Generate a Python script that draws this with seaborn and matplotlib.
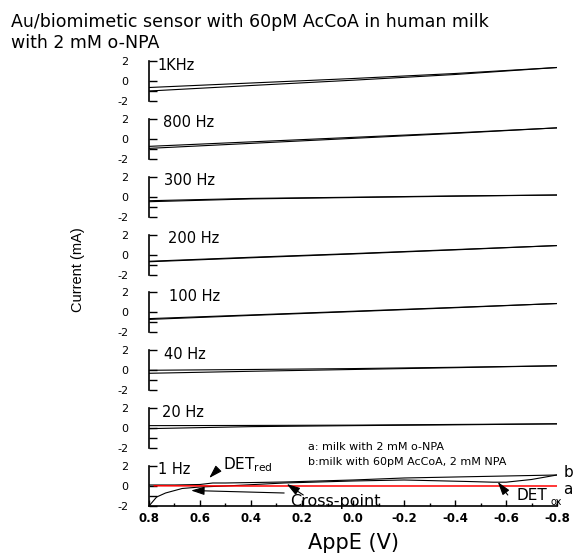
import seaborn as sns
import matplotlib.pyplot as plt
from matplotlib.ticker import MultipleLocator, FixedLocator

freqs = ["1KHz", "800 Hz", "300 Hz", "200 Hz", "100 Hz", "40 Hz", "20 Hz", "1 Hz"]
label_x = [0.765, 0.745, 0.74, 0.725, 0.72, 0.74, 0.75, 0.765]

appe = [0.8, 0.4, 0.0, -0.4, -0.8]

# current (mA), two scan directions per frequency
i_1khz_a = [-0.65, -0.2, 0.25, 0.75, 1.35]
i_1khz_b = [-1.0, -0.45, 0.08, 0.65, 1.35]
i_800_a = [-0.75, -0.3, 0.15, 0.6, 1.1]
i_800_b = [-0.95, -0.45, 0.05, 0.55, 1.1]
i_300_a = [-0.4, -0.17, -0.05, 0.08, 0.17]
i_300_b = [-0.5, -0.22, -0.08, 0.05, 0.17]
i_200_a = [-0.67, -0.27, 0.1, 0.5, 0.9]
i_200_b = [-0.72, -0.32, 0.06, 0.47, 0.9]
i_100_a = [-0.62, -0.25, 0.12, 0.5, 0.89]
i_100_b = [-0.7, -0.3, 0.08, 0.47, 0.89]
i_40_a = [0.0, 0.08, 0.17, 0.3, 0.45]
i_40_b = [-0.3, -0.1, 0.08, 0.26, 0.45]
i_20_a = [0.25, 0.27, 0.3, 0.37, 0.43]
i_20_b = [-0.05, 0.15, 0.25, 0.33, 0.43]

# 1 Hz: curve b (black loop) and curve a (red)
appe_1hz_fwd = [0.8, 0.7, 0.6, 0.55, 0.5, 0.27, 0.0, -0.2, -0.4, -0.6, -0.8]
i_1hz_fwd = [0.1, 0.1, 0.15, 0.3, 0.3, 0.4, 0.6, 0.8, 0.9, 1.0, 1.1]
appe_1hz_rev = [-0.8, -0.7, -0.6, -0.55, -0.45, -0.2, 0.0, 0.27, 0.5, 0.6, 0.67, 0.735, 0.77, 0.8]
i_1hz_rev = [1.1, 0.65, 0.38, 0.38, 0.45, 0.6, 0.5, 0.3, 0.0, -0.1, -0.25, -0.7, -1.1, -2.0]
appe_1hz_a = [0.78, 0.4, 0.0, -0.4, -0.8]
i_1hz_a = [0.02, 0.0, 0.0, 0.0, 0.0]

traces = [
    (i_1khz_a, i_1khz_b), (i_800_a, i_800_b), (i_300_a, i_300_b),
    (i_200_a, i_200_b), (i_100_a, i_100_b), (i_40_a, i_40_b), (i_20_a, i_20_b),
]

sns.set_style("ticks")
plt.rcParams.update({"text.color": "black", "axes.labelcolor": "black",
                     "xtick.color": "black", "ytick.color": "black",
                     "axes.edgecolor": "black"})

fig, axes = plt.subplots(8, 1, sharex=True, figsize=(5.76, 5.53), dpi=100)
fig.subplots_adjust(left=149 / 576, right=557 / 576, top=1 - 61 / 553,
                    bottom=1 - 506 / 553, hspace=0.446)

for n, ax in enumerate(axes):
    if n < 7:
        for ys in traces[n]:
            sns.lineplot(x=appe, y=ys, ax=ax, color="black", lw=0.8,
                         sort=False, estimator=None)
    ax.set_xlim(0.8, -0.8)
    ax.set_ylim(-2, 2)
    ax.set_yticks([-2, 0, 2])
    ax.set_yticklabels(["-2", "0", "2"])
    ax.yaxis.set_minor_locator(FixedLocator([-1]))
    ax.tick_params(axis="y", which="both", direction="in", length=6, width=1,
                   labelsize=8, pad=15)
    for s in ["top", "right"]:
        ax.spines[s].set_visible(False)
    ax.spines["left"].set_linewidth(1.2)
    if n < 7:
        ax.spines["bottom"].set_visible(False)
        ax.tick_params(axis="x", which="both", bottom=False, labelbottom=False)
    ax.text(label_x[n], 1.6, freqs[n], fontsize=10.5, va="center", ha="left")

ax = axes[-1]
sns.lineplot(x=appe_1hz_fwd, y=i_1hz_fwd, ax=ax, color="black", lw=0.8,
             sort=False, estimator=None)
sns.lineplot(x=appe_1hz_rev, y=i_1hz_rev, ax=ax, color="black", lw=0.8,
             sort=False, estimator=None)
sns.lineplot(x=appe_1hz_a, y=i_1hz_a, ax=ax, color="red", lw=1.1,
             sort=False, estimator=None)

ax.spines["bottom"].set_linewidth(1.2)
ax.xaxis.set_major_locator(MultipleLocator(0.2))
ax.xaxis.set_minor_locator(MultipleLocator(0.1))
ax.tick_params(axis="x", which="major", direction="in", length=4.5, width=1, pad=4)
ax.tick_params(axis="x", which="minor", direction="in", length=2.5, width=1)
ax.set_xticks([0.8, 0.6, 0.4, 0.2, 0.0, -0.2, -0.4, -0.6, -0.8])
ax.set_xticklabels(["0.8", "0.6", "0.4", "0.2", "0.0", "-0.2", "-0.4", "-0.6", "-0.8"],
                   fontsize=8.5, fontweight="bold")
ax.set_xlabel("AppE (V)", fontsize=15, labelpad=6)

# annotations in the 1 Hz panel
head = dict(arrowstyle="-|>,head_length=0.8,head_width=0.25", color="black",
            lw=0.8, mutation_scale=10, shrinkA=0, shrinkB=0)
ax.annotate("", xy=(0.635, -0.45), xytext=(0.27, -0.7), arrowprops=head)
ax.annotate("", xy=(0.26, 0.2), xytext=(0.195, -0.9), arrowprops=head)
ax.annotate("", xy=(0.564, 0.8), xytext=(0.533, 1.6), arrowprops=head,
            annotation_clip=False)
ax.annotate("", xy=(-0.568, 0.4), xytext=(-0.607, -0.9), arrowprops=head)
ax.text(0.069, -1.6, "Cross-point", fontsize=11.5, ha="center", va="center")
ax.text(0.51, 1.7, r"DET$_{\mathrm{red}}$", fontsize=11, ha="left", va="baseline")
ax.text(-0.64, -1.45, "DET", fontsize=11, ha="left", va="baseline")
ax.text(-0.775, -1.95, "ox", fontsize=7, ha="left", va="baseline")
ax.text(-0.825, 1.3, "b", fontsize=11, ha="left", va="center")
ax.text(-0.825, -0.35, "a", fontsize=11, ha="left", va="center")
ax.text(0.175, 3.9, "a: milk with 2 mM o-NPA", fontsize=8, ha="left", va="center")
ax.text(0.175, 2.4, "b:milk with 60pM AcCoA, 2 mM NPA", fontsize=8, ha="left", va="center")

fig.text(11 / 576, 1 - 22 / 553, "Au/biomimetic sensor with 60pM AcCoA in human milk",
         fontsize=12.5, ha="left", va="center")
fig.text(11 / 576, 1 - 43 / 553, "with 2 mM o-NPA", fontsize=12.5, ha="left", va="center")
fig.text(78 / 576, 1 - 270 / 553, "Current (mA)", rotation=90, fontsize=10.5,
         family="Liberation Sans", ha="center", va="center")

fig.savefig("out.png", dpi=100)
